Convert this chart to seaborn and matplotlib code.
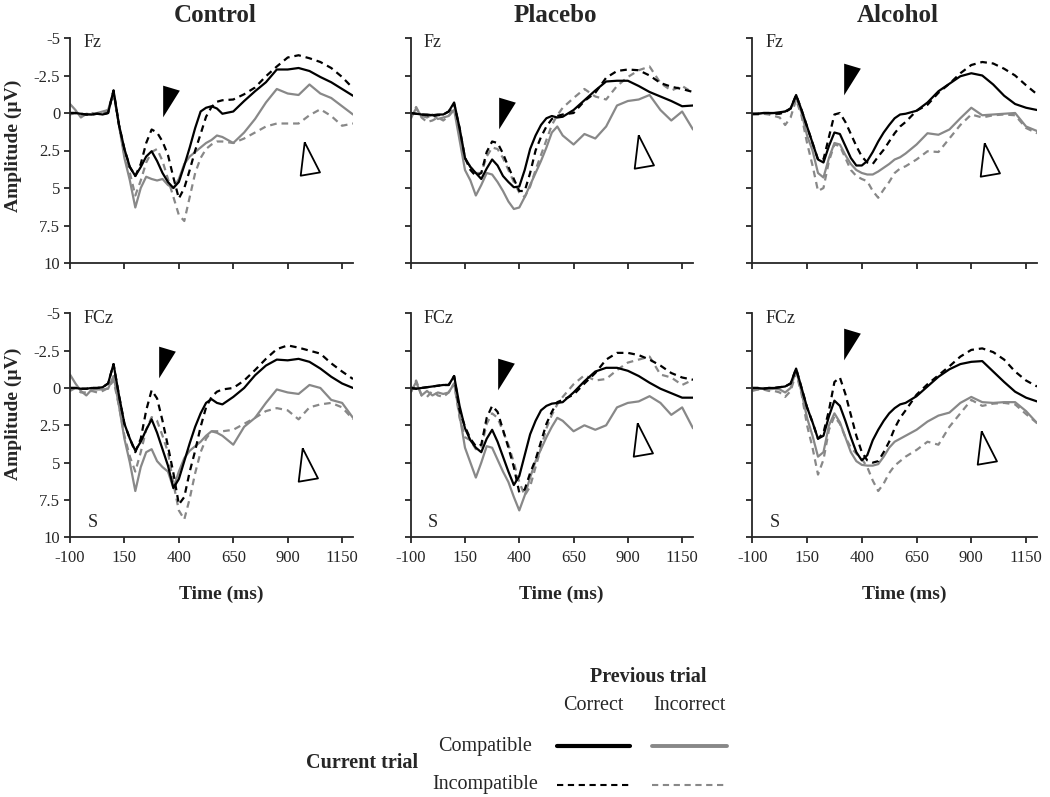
import matplotlib
matplotlib.use('Agg')
import matplotlib.pyplot as plt
from matplotlib.lines import Line2D
import seaborn as sns
import pandas as pd

# sample times (ms) shared by every waveform
time_ms = [-100, -75, -50, -25, 0, 25, 50, 75, 100, 125, 150, 175, 200, 225, 250, 275, 300,
           325, 350, 375, 400, 425, 450, 475, 500, 525, 550, 575, 600, 650, 700, 750, 800,
           850, 900, 950, 1000, 1050, 1100, 1150, 1200]

# amplitudes (uV); cc = compatible/correct, ic = incompatible/correct,
# ci = compatible/incorrect, ii = incompatible/incorrect
ctl_fz_cc = [0.0, 0.0, 0.05, 0.1, 0.1, 0.05, 0.1, 0.0, -1.5,
             0.8, 2.4, 3.6, 4.2, 3.6, 2.9, 2.55, 3.2, 4.0, 4.6, 5.0, 4.6, 3.5, 2.3, 1.0, -0.1,
             -0.35, -0.45, -0.3, 0.05,
             -0.1, -0.8, -1.45, -2.05, -2.9, -2.9, -3.0, -2.8, -2.4, -2.05, -1.6, -1.15]
ctl_fz_ic = [0.0, 0.0, 0.05, 0.1, 0.1, 0.05, 0.1, 0.0, -1.5,
             0.8, 2.4, 3.6, 4.2, 3.4, 2.0, 1.1, 1.3, 1.9, 2.8, 4.3, 5.7, 5.0, 3.8, 2.5, 1.4,
             0.25, -0.4, -0.75, -0.85,
             -0.9, -1.25, -1.7, -2.45, -3.1, -3.7, -3.85, -3.65, -3.4, -3.0, -2.4, -1.65]
ctl_fz_ci = [-0.6, -0.2, 0.3, 0.05, 0.1, 0.0, -0.1, -0.2, -1.4,
             0.8, 3.0, 4.5, 6.3, 5.0, 4.25, 4.4, 4.5, 4.4, 4.8, 5.0, 4.4, 3.4, 2.9, 2.6, 2.3,
             2.0, 1.8, 1.5, 1.6,
             2.0, 1.3, 0.4, -0.7, -1.6, -1.3, -1.2, -1.9, -1.3, -1.0, -0.45, 0.1]
ctl_fz_ii = [0.1, 0.0, 0.2, 0.1, 0.0, 0.05, 0.0, -0.2, -1.3,
             0.8, 2.8, 4.0, 5.5, 4.5, 3.3, 2.6, 2.4, 3.2, 4.4, 5.6, 6.8, 7.2, 5.6, 4.0, 3.0,
             2.4, 2.1, 1.9, 1.9,
             2.0, 1.7, 1.3, 0.9, 0.7, 0.7, 0.7, 0.15, -0.25, 0.2, 0.85, 0.7]

pla_fz_cc = [0.0, 0.05, 0.1, 0.1, 0.15, 0.1, 0.1, -0.1, -0.7,
             1.0, 3.0, 3.6, 4.0, 4.4, 3.7, 3.1, 3.5, 4.2, 4.6, 4.95, 4.9, 3.8, 2.4, 1.5, 0.8,
             0.35, 0.2, 0.3, 0.25,
             -0.2, -0.85, -1.5, -2.1, -2.15, -2.15, -1.8, -1.4, -1.1, -0.8, -0.45, -0.5]
pla_fz_ic = [0.0, 0.05, 0.1, 0.15, 0.2, 0.15, 0.1, -0.1, -0.6,
             1.0, 3.0, 3.8, 4.2, 4.0, 2.6, 1.9, 2.0, 2.7, 3.6, 4.4, 5.2, 5.2, 4.0, 2.5, 1.6,
             0.9, 0.4, 0.2, 0.1,
             0.0, -0.8, -1.35, -2.35, -2.8, -2.9, -2.85, -2.5, -2.0, -1.75, -1.6, -1.4]
pla_fz_ci = [0.3, -0.3, 0.2, 0.3, 0.1, 0.4, 0.3, 0.2, -0.2,
             1.8, 3.8, 4.5, 5.5, 4.8, 4.0, 4.1, 4.6, 5.2, 5.9, 6.4, 6.3, 5.6, 4.8, 4.0, 3.2,
             2.3, 1.3, 0.9, 1.5,
             2.1, 1.4, 1.7, 0.9, -0.5, -0.8, -0.9, -1.2, -0.2, 0.5, -0.1, 1.1]
pla_fz_ii = [0.4, -0.4, 0.3, 0.6, 0.5, 0.3, 0.5, 0.2, -0.4,
             1.2, 3.0, 3.6, 4.0, 4.0, 2.9, 2.3, 2.4, 3.0, 3.8, 4.6, 5.3, 5.6, 4.9, 3.8, 2.8,
             1.8, 0.8, 0.15, -0.35,
             -1.0, -1.6, -1.1, -0.9, -1.8, -2.4, -2.85, -3.1, -2.0, -1.5, -1.8, -1.35]

alc_fz_cc = [0.05, 0.05, 0.0, 0.0, 0.0, -0.05, -0.1, -0.3, -1.2,
             -0.2, 0.9, 2.0, 3.1, 3.3, 2.2, 1.3, 1.4, 2.2, 3.0, 3.5, 3.5, 3.2, 2.6, 1.9, 1.3,
             0.8, 0.35, 0.1, 0.05,
             -0.15, -0.7, -1.45, -1.95, -2.45, -2.65, -2.5, -1.9, -1.15, -0.6, -0.35, -0.2]
alc_fz_ic = [0.05, 0.05, 0.0, 0.0, 0.05, 0.05, -0.05, -0.3, -1.2,
             -0.2, 0.9, 2.0, 3.1, 3.1, 1.6, 0.1, 0.0, 0.6, 1.4, 2.2, 2.9, 3.3, 3.4, 2.9, 2.45,
             1.9, 1.35, 0.9, 0.6,
             -0.15, -0.55, -1.35, -1.95, -2.65, -3.2, -3.4, -3.3, -2.95, -2.5, -1.85, -1.25]
alc_fz_ci = [0.1, 0.05, 0.0, 0.05, 0.0, 0.0, -0.1, -0.3, -1.1,
             0.0, 1.5, 2.5, 4.0, 4.3, 3.0, 2.0, 2.1, 2.8, 3.4, 3.8, 4.0, 4.1, 4.1, 3.9, 3.65,
             3.4, 3.1, 2.95, 2.7,
             2.1, 1.35, 1.45, 1.1, 0.35, -0.35, 0.15, 0.1, 0.05, 0.0, 0.9, 1.2]
alc_fz_ii = [0.1, 0.1, 0.05, 0.1, 0.2, 0.3, 0.8, 0.3, -0.9,
             0.2, 2.0, 3.5, 5.2, 5.0, 3.2, 2.1, 2.2, 3.0, 3.8, 4.2, 4.4, 4.55, 5.2, 5.65, 5.1,
             4.6, 4.0, 3.7, 3.55,
             3.1, 2.55, 2.6, 1.7, 0.8, 0.1, 0.3, 0.15, 0.1, 0.15, 1.0, 1.35]

ctl_fcz_cc = [0.0, 0.0, 0.05, 0.05, 0.0, 0.0, -0.05, -0.3, -1.6,
              0.5, 2.4, 3.4, 4.2, 3.6, 2.8, 2.1, 3.0, 4.1, 5.2, 6.7, 6.1, 4.9, 3.7, 2.6, 1.7,
              1.0, 0.75, 1.0, 1.1,
              0.6, 0.0, -0.85, -1.5, -1.9, -1.85, -1.95, -1.75, -1.3, -0.75, -0.3, 0.0]
ctl_fcz_ic = [0.0, 0.0, 0.05, 0.05, 0.0, 0.0, -0.05, -0.3, -1.6,
              0.5, 2.4, 3.4, 4.3, 3.4, 1.5, 0.15, 0.7, 2.2, 3.9, 5.7, 7.8, 7.3, 5.6, 4.2, 2.6,
              1.3, 0.6, 0.25, 0.1,
              0.0, -0.5, -1.2, -1.95, -2.6, -2.85, -2.7, -2.5, -2.3, -1.65, -1.1, -0.6]
ctl_fcz_ci = [-0.9, -0.3, 0.2, 0.5, 0.1, 0.1, 0.1, 0.05, -0.8,
              1.2, 3.4, 5.0, 6.9, 5.3, 4.3, 4.1, 4.9, 5.3, 5.6, 6.7, 5.6, 4.7, 4.2, 3.9, 3.6,
              3.2, 2.9, 3.0, 3.2,
              3.8, 2.6, 2.0, 1.0, 0.1, 0.3, 0.4, -0.2, 0.0, 0.8, 1.0, 2.0]
ctl_fcz_ii = [0.2, 0.0, 0.3, 0.3, 0.2, 0.3, 0.2, 0.0, -0.5,
              1.2, 3.2, 4.6, 5.6, 4.3, 2.8, 1.95, 2.2, 3.2, 4.3, 6.4, 8.2, 8.8, 7.4, 5.7, 4.3,
              3.4, 2.9, 2.9, 2.9,
              2.8, 2.4, 2.0, 1.55, 1.35, 1.5, 2.1, 1.3, 1.1, 1.0, 1.3, 2.1]

pla_fcz_cc = [0.0, 0.05, 0.0, -0.05, -0.1, -0.15, -0.2, -0.2, -0.8,
              1.2, 2.7, 3.5, 4.0, 4.3, 3.4, 2.8, 3.6, 4.6, 5.6, 6.5, 5.9, 4.5, 3.1, 2.2, 1.5,
              1.2, 1.05, 1.0, 0.95,
              0.3, -0.45, -1.1, -1.35, -1.35, -1.15, -0.8, -0.35, 0.05, 0.35, 0.65, 0.65]
pla_fcz_ic = [0.0, 0.05, 0.0, -0.05, -0.1, -0.15, -0.2, -0.2, -0.8,
              1.5, 2.6, 3.4, 3.9, 3.8, 2.0, 1.2, 1.6, 2.8, 4.0, 5.3, 7.0, 6.8, 5.7, 4.8, 3.6,
              2.4, 1.6, 0.95, 0.8,
              0.45, -0.3, -1.0, -1.9, -2.35, -2.35, -2.2, -1.9, -1.5, -1.0, -0.7, -0.55]
pla_fcz_ci = [0.3, -0.4, 0.5, 0.2, 0.5, 0.3, 0.4, 0.3, -0.3,
              1.8, 4.0, 5.0, 6.0, 5.0, 3.9, 4.0, 4.8, 5.6, 6.3, 7.3, 8.2, 7.2, 6.0, 4.9, 4.1,
              3.3, 2.6, 2.0, 2.2,
              2.9, 2.5, 2.8, 2.5, 1.3, 1.0, 0.9, 0.55, 1.0, 1.8, 1.3, 2.7]
pla_fcz_ii = [0.3, -0.5, 0.5, 0.6, 0.2, 0.5, 0.6, 0.3, -0.3,
              2.0, 3.3, 3.5, 4.1, 4.0, 2.4, 1.7, 2.0, 2.9, 3.8, 5.0, 6.3, 7.2, 6.6, 5.3, 4.0,
              2.7, 1.8, 1.1, 0.6,
              -0.25, -0.85, -0.5, -0.6, -1.2, -1.7, -1.9, -2.1, -0.9, -0.7, -0.2, -0.55]

alc_fcz_cc = [0.0, 0.0, 0.05, 0.0, 0.0, -0.05, -0.1, -0.3, -1.3,
              0.0, 1.3, 2.3, 3.4, 3.2, 1.9, 0.85, 1.2, 2.2, 3.3, 4.3, 4.85, 4.5, 3.5, 2.8, 2.2,
              1.7, 1.35, 1.1, 1.0,
              0.55, -0.1, -0.75, -1.25, -1.6, -1.75, -1.8, -1.1, -0.4, 0.25, 0.65, 0.9]
alc_fcz_ic = [0.0, 0.0, 0.05, 0.0, 0.0, -0.05, -0.1, -0.3, -1.3,
              0.0, 1.3, 2.3, 3.4, 3.0, 1.5, -0.4, -0.7, 0.4, 1.8, 3.2, 4.3, 4.85, 5.0, 4.9, 4.3,
              3.6, 2.7, 2.0, 1.5,
              0.45, -0.25, -0.85, -1.45, -2.1, -2.55, -2.65, -2.4, -1.9, -1.1, -0.5, -0.1]
alc_fcz_ci = [0.1, 0.1, 0.0, 0.1, 0.05, 0.1, 0.3, 0.0, -1.2,
              0.3, 2.0, 3.2, 4.6, 4.3, 2.5, 1.7, 2.3, 3.3, 4.3, 4.9, 5.15, 5.2, 5.2, 5.1, 4.6,
              4.0, 3.6, 3.4, 3.2,
              2.8, 2.25, 1.85, 1.65, 1.0, 0.6, 0.95, 1.0, 0.95, 0.95, 1.55, 2.35]
alc_fcz_ii = [0.2, 0.1, 0.1, 0.2, 0.2, 0.3, 0.6, 0.2, -1.0,
              0.4, 2.5, 4.0, 5.8, 4.8, 2.8, 1.9, 2.4, 3.3, 4.0, 4.4, 4.75, 5.3, 6.2, 6.9, 6.4,
              5.7, 5.2, 4.9, 4.6,
              4.15, 3.6, 3.8, 2.6, 1.7, 0.8, 1.2, 1.05, 1.0, 1.1, 1.75, 2.35]

groups = ['Control', 'Placebo', 'Alcohol']
sites = ['Fz', 'FCz']
x_ticks = [-100, 150, 400, 650, 900, 1150]
y_ticks = [-5, -2.5, 0, 2.5, 5, 7.5, 10]
y_tick_labels = ['-5', '-2.5', '0', '2.5', '5', '7.5', '10']

# arrowhead annotations: (time, amplitude) of each marker centre, per site x group
filled_arrow_fz = [(366, -0.8), (345, -0.03), (353, -2.26)]
filled_arrow_fcz = [(345, -1.72), (340, -0.95), (353, -2.96)]
open_arrow_fz = [(991, 3.32), (966, 2.87), (974, 3.43)]
open_arrow_fcz = [(984, 5.43), (961, 3.76), (963, 4.32)]

curves = {
    ('Control', 'Fz'): (ctl_fz_cc, ctl_fz_ic, ctl_fz_ci, ctl_fz_ii),
    ('Placebo', 'Fz'): (pla_fz_cc, pla_fz_ic, pla_fz_ci, pla_fz_ii),
    ('Alcohol', 'Fz'): (alc_fz_cc, alc_fz_ic, alc_fz_ci, alc_fz_ii),
    ('Control', 'FCz'): (ctl_fcz_cc, ctl_fcz_ic, ctl_fcz_ci, ctl_fcz_ii),
    ('Placebo', 'FCz'): (pla_fcz_cc, pla_fcz_ic, pla_fcz_ci, pla_fcz_ii),
    ('Alcohol', 'FCz'): (alc_fcz_cc, alc_fcz_ic, alc_fcz_ci, alc_fcz_ii),
}
conditions = [('Correct', 'Compatible'), ('Correct', 'Incompatible'),
              ('Incorrect', 'Compatible'), ('Incorrect', 'Incompatible')]

rows = []
for (group, site), series in curves.items():
    for (prev, cur), values in zip(conditions, series):
        for t, v in zip(time_ms, values):
            rows.append({'group': group, 'site': site, 'previous': prev,
                         'current': cur, 'time': t, 'amp': v})
df = pd.DataFrame(rows)

sns.set_style('ticks')
plt.rcParams['font.family'] = ['Liberation Serif', 'DejaVu Serif']
plt.rcParams['axes.unicode_minus'] = False

GRAY = '#888888'
palette = {'Correct': 'black', 'Incorrect': GRAY}
dashes = {'Compatible': '', 'Incompatible': (3, 2.2)}

W, H = 1050, 797
fig = plt.figure(figsize=(W / 100, H / 100), dpi=100)

lefts = [70, 410.7, 752.3]
widths = [283, 282.3, 284.7]
rows_px = [(38, 263), (313.3, 537.3)]

# arrowhead shapes (points, y up)
filled_marker = [(-8.35, 15.85), (8.35, 10.85), (-8.35, -15.85), (-8.35, 15.85)]
open_marker = [(-3.8, 21.1), (-7.8, -12.2), (11.5, -8.9), (-3.8, 21.1)]

for r, site in enumerate(sites):
    top, bottom = rows_px[r]
    for c, group in enumerate(groups):
        ax = fig.add_axes([lefts[c] / W, 1 - bottom / H, widths[c] / W, (bottom - top) / H])
        sub = df[(df['group'] == group) & (df['site'] == site)]
        sns.lineplot(data=sub, x='time', y='amp', hue='previous', style='current',
                     hue_order=['Incorrect', 'Correct'],
                     style_order=['Compatible', 'Incompatible'],
                     palette=palette, dashes=dashes, linewidth=1.6,
                     errorbar=None, legend=False, ax=ax)

        ax.set_xlim(-100, 1200)
        ax.set_ylim(10, -5)
        ax.set_xticks(x_ticks)
        ax.set_yticks(y_ticks)
        sns.despine(ax=ax)
        for side in ['left', 'bottom']:
            ax.spines[side].set_linewidth(1.3)
        ax.tick_params(direction='out', length=4, width=1.3, labelsize=12, pad=3)
        ax.tick_params(axis='x', pad=5)

        if c == 0:
            ax.set_yticklabels(y_tick_labels)
            ax.set_ylabel('Amplitude (µV)', fontsize=14, fontweight='bold')
            ax.yaxis.set_label_coords(-0.168, 0.52 if r == 0 else 0.55)
        else:
            ax.set_yticklabels([])
            ax.set_ylabel('')

        if r == 1:
            ax.set_xticklabels([str(t) for t in x_ticks])
            ax.set_xlabel('Time (ms)', fontsize=14, fontweight='bold')
            ax.xaxis.set_label_coords(0.535, -0.218)
            ax.text(0.062, 0.064, 'S', transform=ax.transAxes, fontsize=13,
                    ha='left', va='center')
        else:
            ax.set_xticklabels([])
            ax.set_xlabel('')
            ax.text(0.512, 1.1, group, transform=ax.transAxes, fontsize=18,
                    fontweight='bold', ha='center', va='center')

        ax.text(0.046, 0.978, site, transform=ax.transAxes, fontsize=13,
                ha='left', va='center')

        fa = (filled_arrow_fz if r == 0 else filled_arrow_fcz)[c]
        oa = (open_arrow_fz if r == 0 else open_arrow_fcz)[c]
        ax.plot([fa[0]], [fa[1]], marker=filled_marker, markersize=22.8,
                color='black', markeredgewidth=0, linestyle='none', clip_on=False)
        ax.plot([oa[0]], [oa[1]], marker=open_marker, markersize=30.4,
                markerfacecolor='white', markeredgecolor='black',
                markeredgewidth=1.3, linestyle='none', clip_on=False)

# legend block drawn in figure pixel coordinates
def fx(px):
    return px / W


def fy(py):
    return 1 - py / H


fig.text(fx(648), fy(677), 'Previous trial', fontsize=14.5, fontweight='bold',
         ha='center', va='center')
fig.text(fx(593), fy(705), 'Correct', fontsize=14.5, ha='center', va='center')
fig.text(fx(690), fy(705), 'Incorrect', fontsize=14.5, ha='center', va='center')
fig.text(fx(485), fy(747), 'Compatible', fontsize=14.5, ha='center', va='center')
fig.text(fx(485), fy(785), 'Incompatible', fontsize=14.5, ha='center', va='center')
fig.text(fx(362), fy(763), 'Current trial', fontsize=14.5, fontweight='bold',
         ha='center', va='center')

fig.add_artist(Line2D([fx(557), fx(630)], [fy(746), fy(746)], color='black', lw=3))
fig.add_artist(Line2D([fx(652), fx(727)], [fy(746), fy(746)], color=GRAY, lw=2.8))
fig.add_artist(Line2D([fx(557), fx(630)], [fy(785), fy(785)], color='black', lw=1.5,
                      dashes=(3, 2.2)))
fig.add_artist(Line2D([fx(652), fx(727)], [fy(785), fy(785)], color=GRAY, lw=1.5,
                      dashes=(3, 2.2)))

fig.savefig('out.png', dpi=100)
